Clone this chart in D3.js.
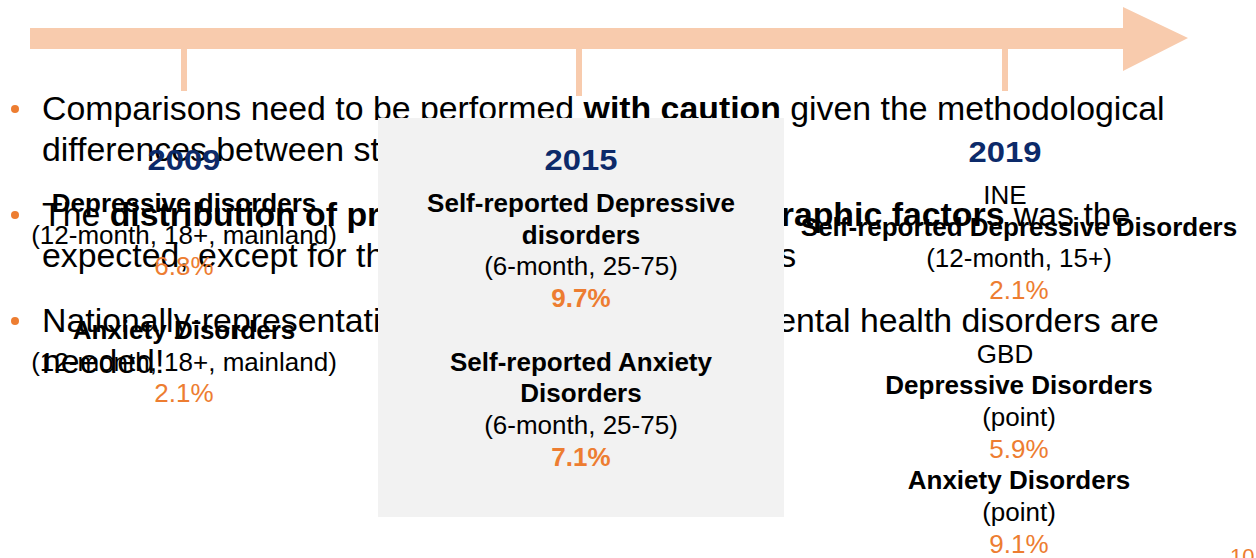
<!DOCTYPE html>
<html>
<head>
<meta charset="utf-8">
<script src="https://cdn.jsdelivr.net/npm/d3@7"></script>
<style>
	body {
		margin: 0;
		background-color: #ffffff;
	}
	svg {
		display: block;
		font-family: "Liberation Sans", Arial, sans-serif;
	}
</style>
</head>
<body>
<div id="chart"></div>
<script>
	// timeline years
	var years = ["2009", "2015", "2019"];

	// one entry per study
	var studyYear = ["2009", "2009", "2015", "2015", "2019", "2019", "2019"];
	var studySource = [null, null, null, null, "INE", "GBD", "GBD"];
	var studyName = [
		"Depressive disorders",
		"Anxiety Disorders",
		"Self-reported Depressive\ndisorders",
		"Self-reported Anxiety\nDisorders",
		"Self-reported Depressive Disorders",
		"Depressive Disorders",
		"Anxiety Disorders"
	];
	var studyScope = [
		"(12-month, 18+, mainland)",
		"(12-month, 18+, mainland)",
		"(6-month, 25-75)",
		"(6-month, 25-75)",
		"(12-month, 15+)",
		"(point)",
		"(point)"
	];
	var prevalence = [6.8, 2.1, 9.7, 7.1, 2.1, 5.9, 9.1];

	// bullet text, each line is a list of [text, bold]
	var bullets = [
		[
			[["Comparisons need to be performed ", false], ["with caution", true], [" given the methodological", false]],
			[["differences between studies.", false]]
		],
		[
			[["The ", false], ["distribution of prevalence by sociodemographic factors", true], [" was the", false]],
			[["expected, except for the sex and anxiety disorders", false]]
		],
		[
			[["Nationally-representative studies with focus on mental health disorders are", false]],
			[["needed!", false]]
		]
	];

	var pageNumber = "10";

	var width = 1256;
	var height = 558;
	var orange = "#ed7d31";
	var peach = "#f8cbad";
	var navy = "#0c2a6a";

	var svg = d3.select("#chart").append("svg")
		.attr("width", width)
		.attr("height", height);

	svg.append("rect")
		.attr("width", width)
		.attr("height", height)
		.attr("fill", "#ffffff");

	var x = d3.scaleOrdinal()
		.domain(years)
		.range([184, 579, 1005]);

	// arrow
	svg.append("path")
		.attr("d", "M30,28 L1123,28 L1123,7 L1188,38 L1123,71 L1123,49 L30,49 Z")
		.attr("fill", peach);

	svg.selectAll(".tick")
		.data(years)
		.enter()
		.append("rect")
		.attr("class", "tick")
		.attr("x", function(d){ return x(d) - 3; })
		.attr("y", 48)
		.attr("width", 6)
		.attr("height", function(d, i){ return i == 1 ? 48 : 43; })
		.attr("fill", peach);

	// bullets
	var bulletTop = [120, 226, 332];
	var lineStep = 41;

	bullets.forEach(function(lines, b){
		svg.append("circle")
			.attr("cx", 15)
			.attr("cy", bulletTop[b] - 11)
			.attr("r", 4)
			.attr("fill", orange);

		lines.forEach(function(segs, l){
			var t = svg.append("text")
				.attr("x", 42)
				.attr("y", bulletTop[b] + l * lineStep)
				.attr("font-size", 33.85)
				.attr("fill", "#000000")
				.attr("xml:space", "preserve")
				.style("white-space", "pre");
			segs.forEach(function(s){
				t.append("tspan")
					.attr("font-weight", s[1] ? "bold" : "normal")
					.text(s[0]);
			});
		});
	});

	// grey box behind 2015
	svg.append("rect")
		.attr("x", 378)
		.attr("y", 118)
		.attr("width", 406)
		.attr("height", 399)
		.attr("fill", "#f2f2f2");

	// page number
	svg.append("text")
		.attr("x", 1230)
		.attr("y", 564)
		.attr("font-size", 22)
		.attr("fill", orange)
		.text(pageNumber);

	// columns
	var yearBase = {"2009": 170, "2015": 170, "2019": 162};
	var bodyShift = {"2009": 0, "2015": 2, "2019": 14};
	var step = 31.7;

	years.forEach(function(yr){
		var cx = x(yr);
		var inBox = yr == "2015";
		var rows = [];

		var y = yearBase[yr];
		var yearY = y;
		y += 42;

		var prevSource;
		var first = true;
		studyName.forEach(function(name, i){
			if (studyYear[i] != yr) return;
			var src = studySource[i];
			if (!first && (src == null || src != prevSource)) y += step;
			if (src != null && src != prevSource) {
				rows.push({t: src, y: y, role: "source"});
				y += step;
			}
			name.split("\n").forEach(function(part){
				rows.push({t: part, y: y, role: "name"});
				y += step;
			});
			rows.push({t: studyScope[i], y: y, role: "scope"});
			y += step;
			rows.push({t: d3.format(".1f")(prevalence[i]) + "%", y: y, role: "value"});
			y += step;
			prevSource = src;
			first = false;
		});

		// year heading, a little wider than the plain bold face
		svg.append("text")
			.attr("transform", "translate(" + (cx + (inBox ? 2 : 0)) + "," + yearY + ") scale(1.13,1)")
			.attr("text-anchor", "middle")
			.attr("font-size", 29)
			.attr("font-weight", "bold")
			.attr("fill", navy)
			.text(yr);

		svg.selectAll(".row" + yr)
			.data(rows)
			.enter()
			.append("text")
			.attr("x", function(d){ return d.role == "source" ? cx : cx + bodyShift[yr]; })
			.attr("y", function(d){ return d.y; })
			.attr("text-anchor", "middle")
			.attr("font-size", 26)
			.attr("font-weight", function(d){
				if (d.role == "name") return "bold";
				if (d.role == "value" && inBox) return "bold";
				return "normal";
			})
			.attr("fill", function(d){
				if (d.role == "value") return orange;
				return "#000000";
			})
			.text(function(d){ return d.t; });
	});
</script>
</body>
</html>
